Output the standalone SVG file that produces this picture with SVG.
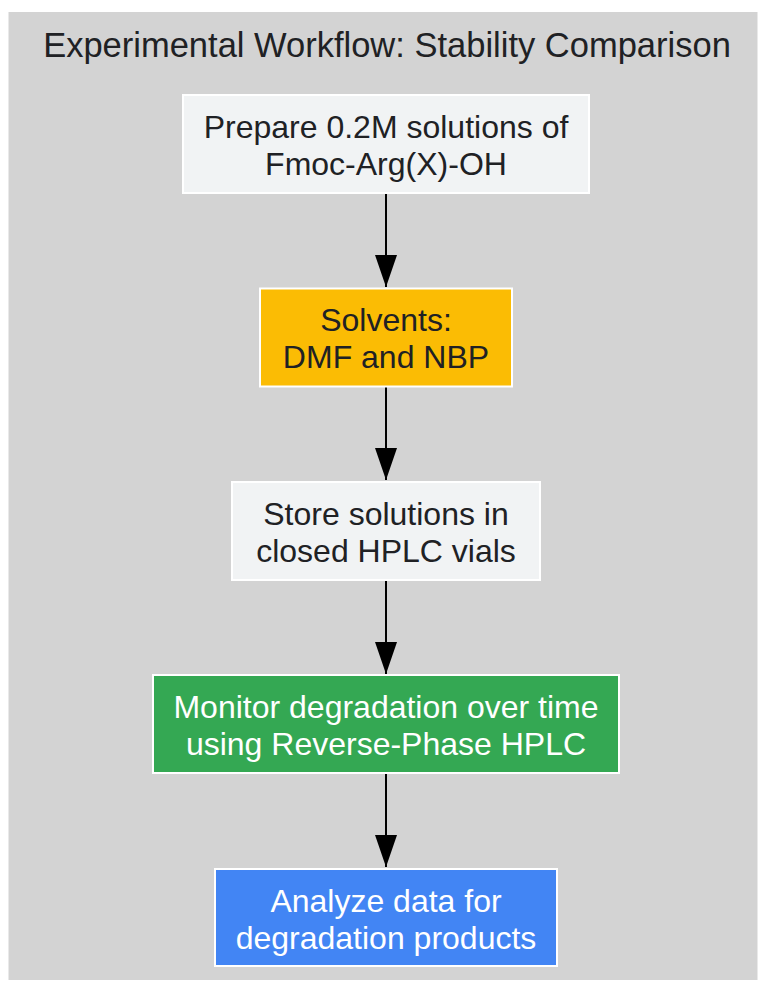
<svg xmlns="http://www.w3.org/2000/svg" width="760" height="982" viewBox="0 0 760 982">
<defs>
<style>
.bg{fill:#d3d3d3;}
.node rect{stroke:#ffffff;stroke-width:2;}
.t{font-family:"Liberation Sans",Arial,sans-serif;font-size:32px;text-anchor:middle;}
.dark{fill:#202124;}
.light{fill:#ffffff;}
.title{font-family:"Liberation Sans",Arial,sans-serif;font-size:34.5px;text-anchor:middle;fill:#202124;}
.edge{stroke:#000000;stroke-width:2;fill:none;marker-end:url(#ah);}
</style>
<marker id="ah" viewBox="0 0 32 22" refX="32" refY="11" markerWidth="32" markerHeight="22" markerUnits="userSpaceOnUse" orient="auto">
<path d="M0,0 L32,11 L0,22 Z" fill="#000000"/>
</marker>
</defs>
<rect x="0" y="0" width="760" height="982" fill="#ffffff"/>
<rect class="bg" x="8.5" y="12" width="749" height="968"/>
<text class="title" x="387" y="57">Experimental Workflow: Stability Comparison</text>
<g id="edges">
<line class="edge" x1="386" y1="194" x2="386" y2="287"/>
<line class="edge" x1="386" y1="387" x2="386" y2="480"/>
<line class="edge" x1="386" y1="580" x2="386" y2="674"/>
<line class="edge" x1="386" y1="774" x2="386" y2="867"/>
</g>
<g id="n1" class="node">
<rect x="183" y="95" width="406" height="98" fill="#f1f3f4"/>
<text class="t dark" x="386" y="138">Prepare 0.2M solutions of</text>
<text class="t dark" x="386" y="175">Fmoc-Arg(X)-OH</text>
</g>
<g id="n2" class="node">
<rect x="260" y="288.5" width="252" height="98" fill="#fbbc04"/>
<text class="t dark" x="386" y="331">Solvents:</text>
<text class="t dark" x="386" y="368">DMF and NBP</text>
</g>
<g id="n3" class="node">
<rect x="232" y="482" width="308" height="98" fill="#f1f3f4"/>
<text class="t dark" x="386" y="524.5">Store solutions in</text>
<text class="t dark" x="386" y="561.5">closed HPLC vials</text>
</g>
<g id="n4" class="node">
<rect x="153" y="675" width="466" height="98" fill="#34a853"/>
<text class="t light" x="386" y="718">Monitor degradation over time</text>
<text class="t light" x="386" y="755">using Reverse-Phase HPLC</text>
</g>
<g id="n5" class="node">
<rect x="215" y="869" width="342" height="97" fill="#4285f4"/>
<text class="t light" x="386" y="911.5">Analyze data for</text>
<text class="t light" x="386" y="948.5">degradation products</text>
</g>
</svg>
